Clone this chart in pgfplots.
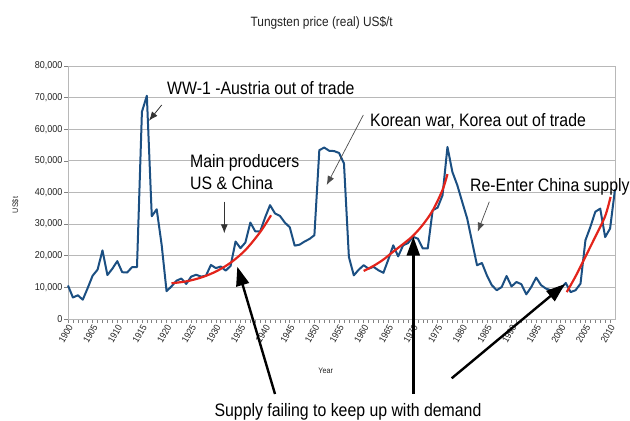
\documentclass[border=0pt]{standalone}
\usepackage{fontspec}
\setmainfont{Liberation Sans}
\newfontfamily\annfont{Liberation Sans}[FakeStretch=0.88]
\newfontfamily\tickfont{Liberation Sans}[FakeStretch=0.9]
\usepackage{pgfplots}
\usepackage{pgfplotstable}
\pgfplotsset{compat=1.18}
\usetikzlibrary{arrows.meta}
\definecolor{wblue}{HTML}{1B4F82}
\definecolor{wred}{HTML}{E3241B}
\definecolor{gridgray}{HTML}{B8B8B8}
\definecolor{txt}{HTML}{222222}

\pgfplotstableread{
year price
1900 10600
1901 6800
1902 7500
1903 6100
1904 9800
1905 13700
1906 15600
1907 21700
1908 13900
1909 15900
1910 18300
1911 14800
1912 14700
1913 16400
1914 16400
1915 65500
1916 70600
1917 32500
1918 34700
1919 23500
1920 8800
1921 10300
1922 12100
1923 12800
1924 11100
1925 13400
1926 14000
1927 13400
1928 13700
1929 17100
1930 16100
1931 16600
1932 15300
1933 16800
1934 24500
1935 22400
1936 24200
1937 30500
1938 27700
1939 27700
1940 32100
1941 36000
1942 33400
1943 32600
1944 30500
1945 29000
1946 23200
1947 23500
1948 24500
1949 25300
1950 26500
1951 53400
1952 54200
1953 53200
1954 53100
1955 52500
1956 49200
1957 19600
1958 13800
1959 15600
1960 17000
1961 15900
1962 16500
1963 15400
1964 14600
1965 18800
1966 23300
1967 19800
1968 23300
1969 24000
1970 26000
1971 25400
1972 22300
1973 22300
1974 34400
1975 35200
1976 39100
1977 54400
1978 46500
1979 42300
1980 37000
1981 31800
1982 24400
1983 17000
1984 17700
1985 13800
1986 10700
1987 9100
1988 10100
1989 13600
1990 10300
1991 11700
1992 11000
1993 7800
1994 10100
1995 13100
1996 10700
1997 9600
1998 9100
1999 8500
2000 9600
2001 11400
2002 8500
2003 9100
2004 11200
2005 24900
2006 29100
2007 33900
2008 34900
2009 25900
2010 28600
2011 41000
}\pricedata

\begin{document}
\begin{tikzpicture}
\useasboundingbox (0bp,0bp) rectangle (630bp,421bp);
\begin{axis}[
  at={(68bp,102bp)}, anchor=south west,
  scale only axis, width=547bp, height=253bp,
  xmin=1900, xmax=2011, ymin=0, ymax=80000,
  xtick={1900,1905,...,2010}, minor x tick num=4,
  ytick={0,10000,...,80000},
  tick pos=left, tick align=outside,
  major tick length=4bp, minor tick length=4bp,
  every tick/.style={gridgray!70!black, line width=0.6bp},
  ymajorgrids, grid style={gridgray, line width=0.8bp},
  axis line style={gridgray, line width=0.8bp},
  scaled y ticks=false,
  /pgf/number format/assume math mode=true,
  yticklabel style={font=\tickfont\fontsize{10bp}{10bp}\selectfont, text=txt, inner sep=1.5bp, /pgf/number format/1000 sep={,}},
  xticklabel style={font=\tickfont\fontsize{9.5bp}{10bp}\selectfont, text=txt, rotate=60, anchor=east, inner sep=1bp, yshift=-3.5bp, /pgf/number format/1000 sep={}},
  clip=false,
]
\addplot[wblue, line width=2bp, line join=round, mark=none] table[x=year, y=price] {\pricedata};
\addplot[wred, line width=2.2bp, smooth, mark=none] coordinates {
(1921,11300) (1924,11900) (1927,13100) (1930,15000) (1933,17800) (1936,21800) (1939,27500) (1941.2,32800)};
\addplot[wred, line width=2.2bp, smooth, mark=none] coordinates {
(1960,15200) (1962,16800) (1964,18800) (1966,21300) (1968,23700) (1970,26300) (1972,29800) (1974,34300) (1976,40800) (1977,45800)};
\addplot[wred, line width=2.2bp, smooth, mark=none] coordinates {
(2001.2,8500) (2003,13500) (2005,19700) (2007,26000) (2009,32500) (2010.1,38600)};
\end{axis}

% titles and labels
\node[anchor=base, inner sep=0pt, text=txt, font=\annfont\fontsize{13.5bp}{14bp}\selectfont] at (321.7bp,394.3bp) {Tungsten price (real) US\$/t};
\node[rotate=90, inner sep=0pt, text=txt, font=\tickfont\fontsize{8bp}{9bp}\selectfont] at (15.5bp,216bp) {US\$t};
\node[inner sep=0pt, text=txt, font=\tickfont\fontsize{8bp}{9bp}\selectfont] at (325.7bp,50bp) {Year};

% annotations
\begin{scope}[every node/.style={inner sep=0pt, text=black, font=\annfont\fontsize{18bp}{20bp}\selectfont}]
\node[anchor=base west] at (167bp,326bp) {WW-1 -Austria out of trade};
\node[anchor=base west] at (370bp,294.3bp) {Korean war, Korea out of trade};
\node[anchor=base west] at (190bp,253.7bp) {Main producers};
\node[anchor=base west] at (190bp,231.7bp) {US \& China};
\node[anchor=base west] at (470bp,229.3bp) {Re-Enter China supply};
\node[anchor=base] at (348bp,4.3bp) {Supply failing to keep up with demand};
\end{scope}

% thin arrows
\draw[black!80, line width=0.8bp, -{Latex[length=9bp,width=7bp]}] (161.7bp,316bp) -- (149bp,300.3bp);
\draw[black!80, line width=0.8bp, -{Latex[length=9bp,width=7bp]}] (224.3bp,219.3bp) -- (224.3bp,187.7bp);
\draw[black!70, line width=0.7bp, -{Latex[length=9bp,width=7bp]}] (363.3bp,306bp) -- (326.7bp,236bp);
\draw[black!70, line width=0.7bp, -{Latex[length=9bp,width=7bp]}] (489.3bp,219.3bp) -- (477.7bp,189.3bp);

% thick arrows
\draw[black, line width=2.4bp, -{Triangle[length=19bp,width=13bp]}] (275bp,27bp) -- (237.3bp,154.3bp);
\draw[black, line width=2.4bp, -{Triangle[length=19bp,width=13bp]}] (413.3bp,27bp) -- (413.3bp,184.3bp);
\draw[black, line width=2.4bp, -{Triangle[length=19bp,width=13bp]}] (451.7bp,42.7bp) -- (565bp,137bp);
\end{tikzpicture}
\end{document}
